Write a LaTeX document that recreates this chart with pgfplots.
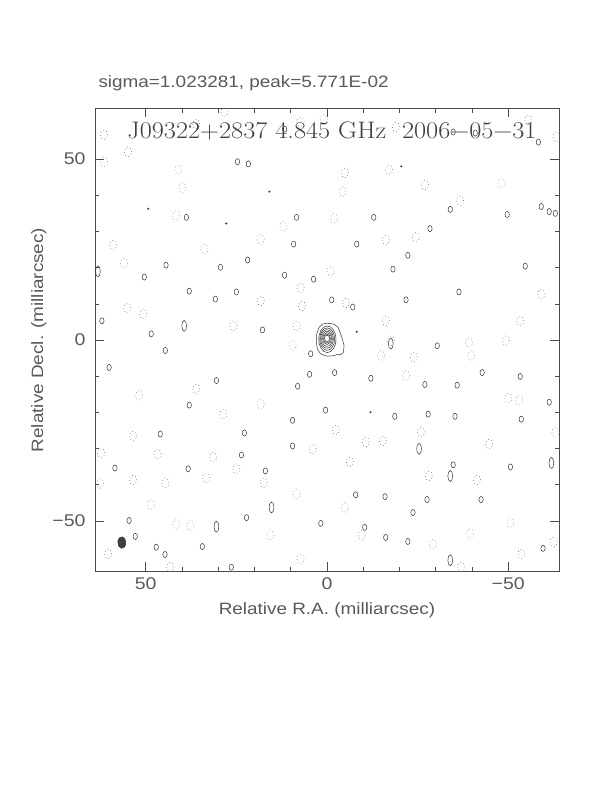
\documentclass[border=0pt]{standalone}
\usepackage{fontspec}
\setmainfont{Liberation Sans}
\newfontfamily\serifhead{Latin Modern Roman}
\usepackage{pgfplots}
\pgfplotsset{compat=1.18}
\newcommand{\wide}[1]{\scalebox{1.15}[1]{#1}}
\begin{document}
\begin{tikzpicture}[x=1bp,y=1bp]
\path[use as bounding box] (0,0) rectangle (612,792);
\begin{axis}[
  at={(95bp,220.5bp)}, anchor=south west,
  scale only axis, width=464bp, height=463bp,
  xmin=-64, xmax=64, ymin=-64, ymax=64, x dir=reverse,
  axis line style={black!70, line width=0.6bp},
  tick style={black!70, line width=0.6bp},
  tick align=inside,
  major tick length=9bp, minor tick length=4.5bp,
  xtick={-50,0,50}, ytick={-50,0,50},
  xticklabels={\wide{−50},\wide{0},\wide{50}}, yticklabels={\wide{−50},\wide{0},\wide{50}},
  minor x tick num=4, minor y tick num=4,
  ticklabel style={font=\fontsize{17}{17}\selectfont, text=black!65},
  xticklabel style={yshift=-3bp},
  yticklabel style={xshift=-6bp},
  xlabel={\wide{Relative R.A. (milliarcsec)}},
  ylabel={\wide{Relative Decl. (milliarcsec)}},
  label style={font=\fontsize{16.5}{16.5}\selectfont, text=black!65},
  xlabel style={at={(axis description cs:0.5,-0.083)}, anchor=center},
  ylabel style={at={(axis description cs:-0.121,0.5)}, anchor=center},
  title={\wide{sigma=1.023281, peak=5.771E-02}},
  title style={at={(axis description cs:0,1.0335)}, anchor=base west, font=\fontsize{16.5}{16.5}\selectfont, text=black!65},
  clip marker paths=true,
]
% positive noise contours (small)
\addplot[only marks, mark=o, mark size=2.2, mark options={yscale=1.4, black!80, line width=0.5bp}] coordinates {
(11.7,58.3) (-34.8,57.5) (-40.9,57.2) (24.7,49.3) (21.7,48.7) (-58.3,54.7)
(38.8,33.9) (8.4,33.9) (-12.9,33.9) (-34.0,36.1) (-49.7,34.7)
(-59.1,36.9) (-61.3,35.5) (-63.0,35.0) (-28.4,30.8) (-22.3,23.4) (-8.2,26.5)
(9.2,26.5) (21.9,22.1) (44.4,20.7) (29.4,20.1) (50.4,17.4) (38.0,13.5)
(25.0,13.3) (11.7,17.9) (3.7,16.8) (-18.2,19.6) (-36.4,13.3) (-54.7,20.4)
(62.1,5.3) (30.8,11.3) (17.8,2.8) (-1.3,11.1) (-7.1,9.1) (-21.8,11.1)
(-30.4,-1.6) (44.6,-2.9) (48.5,1.7) (60.1,-7.6) (30.5,-11.2)
(4.8,-9.5) (4.5,-3.8) (-2.1,-9.0) (-12.1,-10.6) (-27.0,-12.3) (8.1,-12.8)
(-35.9,-12.5) (-42.8,-9.0) (-53.3,-10.1) (-61.3,-17.2) (38.0,-18.0) (46.0,-26.0)
(22.8,-25.7) (0.4,-19.4) (9.5,-22.2) (-18.7,-21.1) (-27.9,-20.5) (-35.3,-21.1)
(-53.6,-21.9) (23.6,-31.8) (9.5,-29.3) (17.0,-36.2) (58.5,-35.4)
(38.3,-35.6) (-34.8,-34.5) (-50.6,-35.1) (-7.9,-42.8) (-16.0,-43.3)
(-27.6,-44.1) (-42.5,-44.1) (1.7,-50.7) (-10.4,-51.8) (22.2,-49.1) (34.4,-57.1)
(47.1,-57.3) (52.9,-54.3) (54.6,-49.9) (44.7,-59.3) (-16.2,-54.6) (-22.3,-55.7)
(-59.6,-57.6) (-23.7,-47.7) (26.4,-62.8)
};
% tiny positive dots
\addplot[only marks, mark=o, mark size=0.8, mark options={black!80, line width=0.5bp}] coordinates {
(15.9,41.0) (27.8,32.2) (49.3,36.3) (-8.2,2.3) (-12.0,-20.0) (-20.5,48.0)
};
% elongated positive contours
\addplot[only marks, mark=o, mark size=2.4, mark options={yscale=2.3, black!80, line width=0.5bp}] coordinates {
(63.2,19.0) (39.4,3.9) (15.3,-46.3) (30.5,-51.6) (-61.9,-34.0) (-34.0,-60.9)
(-25.4,-30.1) (-34.0,-37.6) (-17.6,-1.0)
};
% negative (dotted) noise contours
\addplot[only marks, mark=o, mark size=3.6, mark options={yscale=1.35, black!55, line width=0.6bp, dash pattern=on 0.7bp off 2.6bp}] coordinates {
(61.5,56.7) (54.9,52.0) (41.0,47.1) (39.9,42.1) (61.5,49.3) (-4.9,46.2)
(-17.1,47.1) (-4.3,41.0) (-27.0,42.9) (-36.7,38.5) (-16.2,27.6) (41.6,34.4)
(18.3,27.8) (12.0,31.4) (-1.9,33.6) (-24.5,28.4) (-48.1,43.5) (59.0,26.2)
(56.0,21.2) (33.8,25.1) (7.3,14.4) (-1.0,19.0) (18.3,10.8) (55.1,8.9)
(50.7,7.2) (25.8,3.9) (8.4,3.9) (-16.2,5.3) (-17.6,-0.2) (-14.9,-4.3)
(-24.0,-4.8) (-21.8,-9.8) (-39.8,-4.3) (-39.2,-0.7) (-53.3,5.3) (-49.4,-0.2)
(-59.1,12.7) (-53.0,-16.7) (-50.0,-16.1) (-63.0,-25.5) (-44.7,-28.8) (-41.4,-38.7)
(-28.1,-37.6) (-39.5,-53.5) (-50.6,-50.5) (-29.2,-56.5) (-9.6,-54.0) (-4.9,-46.3)
(8.4,-42.5) (17.5,-39.5) (25.0,-35.6) (31.4,-32.4) (33.3,-38.1) (44.6,-39.5)
(53.5,-38.7) (62.6,-39.7) (41.6,-51.0) (48.5,-45.5) (37.7,-51.3) (15.6,-54.0)
(4.0,-30.1) (-2.4,-24.9) (-15.4,-27.9) (-25.9,-25.5) (-10.7,-28.2) (-6.3,-33.7)
(18.3,-17.8) (28.6,-20.5) (36.1,-13.6) (51.8,-15.3) (53.5,-26.6) (62.3,-31.2)
(46.8,-31.5) (-37.0,-62.8) (-53.6,-59.2) (-62.5,-55.9) (7.3,-60.6) (43.3,-62.8)
(60.4,-59.2) (-63.3,56.1) (-55.5,60.8) (7.3,60.2) (-19.0,58.9) (36.1,59.7)
(28.3,63.0) (0.9,61.0) (6.9,9.4) (9.5,-1.5) (-5.2,10.2)
};
% central source: outer contour
\addplot[black!80, line width=0.5bp] coordinates {
(-0.10,4.66) (-1.95,4.39) (-3.05,3.47) (-3.61,2.10) (-4.25,0.27) (-4.71,-1.57)
(-4.53,-3.40) (-3.79,-4.04) (-2.68,-4.04) (-1.95,-4.31) (-0.10,-4.50) (1.74,-3.85)
(2.66,-2.48) (2.94,-0.65) (2.85,1.64) (2.21,3.47) (1.28,4.39) (-0.10,4.66)
};
% central source: inner contours
\addplot[only marks, mark=o, mark size=8.6, mark options={yscale=1.55, black!80, line width=0.5bp}] coordinates {(-0.1,0.2)};
\addplot[only marks, mark=o, mark size=7.5, mark options={yscale=1.5, black!80, line width=0.5bp}] coordinates {(-0.05,0.25)};
\addplot[only marks, mark=o, mark size=6.4, mark options={yscale=1.45, black!80, line width=0.5bp}] coordinates {(0,0.3)};
\addplot[only marks, mark=o, mark size=5.4, mark options={yscale=1.4, black!80, line width=0.5bp}] coordinates {(0,0.35)};
\addplot[only marks, mark=o, mark size=4.4, mark options={yscale=1.35, black!80, line width=0.5bp}] coordinates {(0,0.4)};
\addplot[only marks, mark=o, mark size=3.5, mark options={yscale=1.3, black!80, line width=0.5bp}] coordinates {(0,0.4)};
\addplot[only marks, mark=o, mark size=2.6, mark options={yscale=1.25, black!80, line width=0.5bp}] coordinates {(0,0.45)};
% beam
\addplot[only marks, mark=*, mark size=4, mark options={yscale=1.45, rotate=-8, fill=black!75, draw=black!85, line width=0.5bp}] coordinates {(56.6,-56.0)};
\node[anchor=base west, inner sep=0pt, text=black!75, font=\serifhead\fontsize{24}{24}\selectfont] at (axis cs:55.1,55.6) {\scalebox{1.1}[1]{J09322+2837 4.845 GHz\ \ 2006−05−31}};
\end{axis}
\end{tikzpicture}
\end{document}
